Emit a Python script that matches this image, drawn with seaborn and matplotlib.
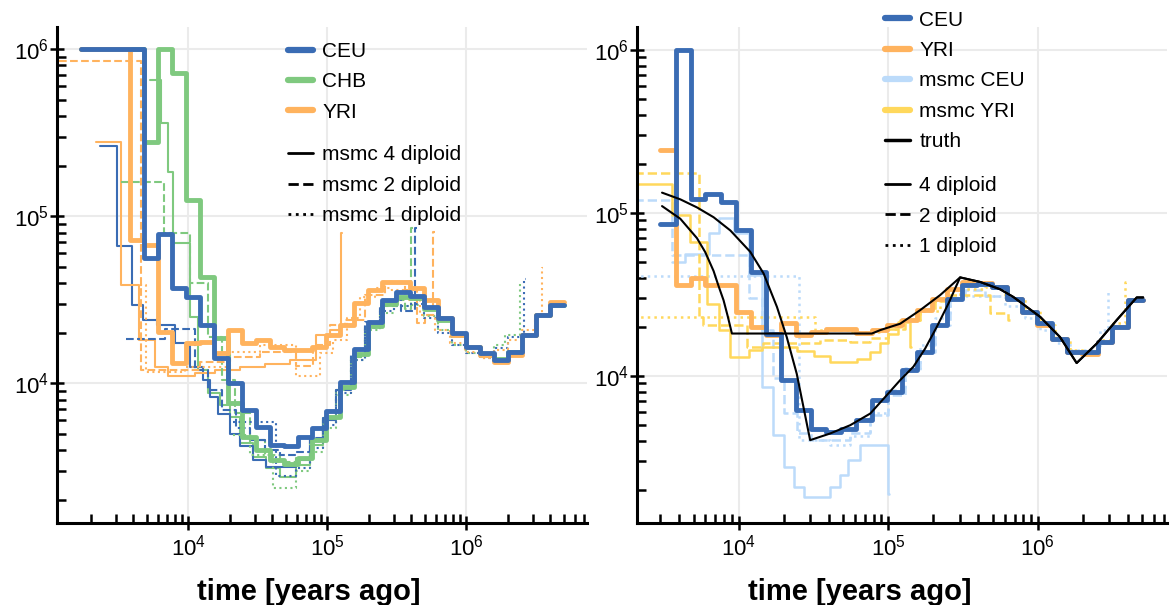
import numpy as np
import matplotlib
matplotlib.use("Agg")
import matplotlib.pyplot as plt
from matplotlib.lines import Line2D
from matplotlib.ticker import LogLocator, NullFormatter
import seaborn as sns

# shared time bins of the thick step curves [years ago]
T_GRID = [3.8e3, 4.8e3, 6.0e3, 7.6e3, 9.6e3, 1.21e4, 1.53e4, 1.93e4, 2.43e4, 3.06e4,
          3.86e4, 4.87e4, 6.14e4, 7.74e4, 9.77e4, 1.23e5, 1.55e5, 1.96e5, 2.47e5, 3.11e5,
          3.93e5, 4.95e5, 6.24e5, 7.87e5, 9.93e5, 1.25e6, 1.58e6, 1.99e6, 2.51e6, 3.16e6,
          3.99e6, 5.03e6]
LEFT_START = 1.7e3
RIGHT_START = 3.0e3

# ---- left panel: thick curves
ceu_left = [1e6, 1e6, 5.6e4, 7.8e4, 3.7e4, 3.3e4, 2.23e4, 1.41e4, 1.0e4, 6900, 5500, 4300,
            4200, 4800, 5400, 6800, 1.02e4, 1.6e4, 2.34e4, 3.15e4, 3.54e4, 3.35e4, 2.88e4,
            2.45e4, 1.99e4, 1.66e4, 1.51e4, 1.39e4, 1.55e4, 1.95e4, 2.56e4, 2.94e4]
chb_left = [1e6, 1e6, 2.8e5, 1e6, 7.2e5, 1.25e5, 4.35e4, 1.86e4, 7600, 4800, 4000, 3500,
            3300, 3600, 4600, 6300, 9500, 1.5e4, 2.2e4, 3.0e4, 3.3e4, 3.25e4, 2.8e4, 2.4e4,
            1.95e4, 1.65e4, 1.5e4, 1.4e4, 1.55e4, 1.95e4, 2.55e4, 2.94e4]
yri_left = [1e6, 7.2e4, 6.7e4, 2.04e4, 1.32e4, 1.74e4, 1.78e4, 1.52e4, 2.08e4, 1.74e4, 1.82e4,
            1.66e4, 1.58e4, 1.58e4, 1.66e4, 1.95e4, 2.23e4, 3.03e4, 3.62e4, 4.06e4, 4.06e4,
            3.72e4, 3.16e4, 2.46e4, 1.95e4, 1.66e4, 1.48e4, 1.35e4, 1.48e4, 1.95e4, 2.56e4, 3.08e4]

# ---- left panel: msmc curves (time edges, sizes)
ceu_m4_t = [2300, 3050, 3910, 4690, 5920, 7970, 10200, 12700, 14200, 16300, 19800, 23400,
            29000, 36400, 59200, 74600, 92500, 116000]
ceu_m4_n = [2.65e5, 6.6e4, 2.94e4, 2.39e4, 2.23e4, 1.74e4, 1.26e4, 1.05e4, 8300, 6600, 5000,
            4200, 3480, 3170, 3480, 4580, 6030]
chb_m4_t = [5270, 6400, 7100, 7750, 10200, 11700, 13800, 16800, 19800, 23400, 29000, 36400,
            45400, 59800, 74600, 92500, 116000]
chb_m4_n = [6.5e5, 3.6e5, 1.85e5, 6.9e4, 2.5e4, 1.2e4, 8800, 7400, 6300, 4370, 3640, 3100,
            2760, 3250, 4270, 6030]
yri_m4_t = [2180, 3260, 4410, 5720, 7100, 11100, 15500, 23400, 35400, 53600, 83400, 104000,
            126000, 128000]
yri_m4_n = [2.8e5, 3.9e4, 1.82e4, 1.26e4, 1.10e4, 1.15e4, 1.20e4, 1.25e4, 1.31e4, 1.38e4,
            1.95e4, 2.08e4, 8.0e4]

ceu_m2_t = [3580, 6750, 11100, 13800, 17400, 21900, 27600, 35400, 45400, 59200, 74600, 92500,
            116000, 147000, 185000, 238000, 300000, 337000, 425000, 439000]
ceu_m2_n = [1.84e4, 2.13e4, 1.2e4, 9100, 6900, 5400, 4570, 4000, 3720, 3880, 4700, 6200, 9100,
            1.48e4, 2.33e4, 2.94e4, 3.24e4, 2.71e4, 8.5e4]
chb_m2_t = [3300, 6640, 10200, 13800, 17400, 21500, 27600, 35400, 45400, 59200, 74600, 92500,
            116000, 147000, 185000, 238000, 300000, 360000, 402000, 414000]
chb_m2_n = [1.61e5, 7.9e4, 3.97e4, 1.9e4, 1.05e4, 6640, 4570, 3720, 3380, 3560, 4570, 6200,
            9100, 1.44e4, 2.2e4, 2.9e4, 3.16e4, 2.8e4, 8.5e4]
yri_m2_t = [1170, 4590, 12100, 19800, 32600, 59800, 78400, 104000, 133000, 185000, 258000,
            360000, 439000, 501000, 575000, 591000]
yri_m2_n = [8.5e5, 1.2e4, 1.34e4, 1.44e4, 1.54e4, 1.27e4, 1.7e4, 2.23e4, 2.39e4, 3.38e4, 4.0e4,
            3.6e4, 2.3e4, 2.57e4, 8.1e4]

ceu_m1_t = [20800, 43000, 59200, 74600, 92500, 116000, 147000, 185000, 238000, 300000, 391000,
            493000, 622000, 784000, 988000, 1.25e6, 1.57e6, 1.98e6, 2.58e6, 2.66e6]
ceu_m1_n = [5900, 2800, 3100, 4100, 5600, 8800, 1.38e4, 2.14e4, 2.7e4, 2.9e4, 3.0e4, 2.46e4,
            2.0e4, 1.7e4, 1.52e4, 1.42e4, 1.63e4, 1.9e4, 4.2e4]
chb_m1_t = [20800, 27600, 40400, 59800, 74600, 92500, 116000, 147000, 185000, 238000, 300000,
            391000, 493000, 622000, 784000, 988000, 1.25e6, 1.57e6, 1.89e6, 2.42e6, 2.50e6]
chb_m1_n = [4900, 3720, 2360, 2980, 3880, 5400, 8500, 1.38e4, 2.08e4, 2.64e4, 2.9e4, 2.94e4,
            2.53e4, 2.08e4, 1.7e4, 1.52e4, 1.44e4, 1.7e4, 1.95e4, 4.0e4]
yri_m1_t = [4460, 4930, 9400, 19800, 32600, 59800, 88100, 109000, 138000, 171000, 219000,
            281000, 360000, 461000, 591000, 759000, 972000, 1.25e6, 1.57e6, 1.98e6, 2.50e6,
            3.10e6, 3.47e6, 3.55e6]
yri_m1_n = [3.9e4, 1.17e4, 1.25e4, 1.54e4, 1.7e4, 1.1e4, 1.52e4, 1.82e4, 2.46e4, 3.29e4,
            3.72e4, 3.6e4, 3.16e4, 2.57e4, 2.08e4, 1.74e4, 1.54e4, 1.42e4, 1.58e4, 1.82e4,
            2.08e4, 2.46e4, 4.9e4]

# ---- right panel: thick curves
ceu_right = [8.6e4, 1e6, 1.22e5, 1.31e5, 1.16e5, 7.8e4, 4.35e4, 1.82e4, 9400, 6160, 4750, 4530,
             4750, 5350, 7100, 8000, 1.08e4, 1.40e4, 2.05e4, 2.98e4, 3.6e4, 3.65e4, 3.5e4,
             2.98e4, 2.47e4, 2.1e4, 1.69e4, 1.40e4, 1.40e4, 1.62e4, 2.0e4, 2.91e4]
yri_right = [2.43e5, 3.6e4, 3.96e4, 3.6e4, 3.6e4, 2.47e4, 2.0e4, 1.78e4, 2.1e4, 1.78e4, 1.86e4,
             1.95e4, 1.93e4, 1.84e4, 1.9e4, 2.05e4, 2.2e4, 2.53e4, 2.98e4, 3.43e4, 3.77e4,
             3.69e4, 3.52e4, 2.98e4, 2.47e4, 2.05e4, 1.69e4, 1.40e4, 1.37e4, 1.62e4, 2.0e4, 2.91e4]

# ---- right panel: msmc curves
mceu_4_t = [3590, 4400, 6310, 7350, 9270, 11700, 14300, 17100, 20000, 23300, 27200, 41000,
            47800, 54300, 65000, 100500, 102000]
mceu_4_n = [5.0e4, 5.6e4, 7.5e4, 9.3e4, 7.5e4, 4.15e4, 8500, 4330, 2770, 2080, 1810, 2080,
            2460, 3040, 3760, 1900]
mceu_2_t = [2000, 3590, 11700, 14300, 17100, 20000, 24500, 30600, 41000, 55700, 75800, 100500,
            130000, 164000, 206000, 259000, 327000, 445000, 560000]
mceu_2_n = [1.2e5, 5.5e4, 3.0e4, 1.9e4, 9700, 5900, 4440, 4050, 4050, 4500, 5750, 7600, 1.08e4,
            1.4e4, 2.05e4, 3.0e4, 3.35e4, 3.1e4]
mceu_1_t = [2000, 25200, 41000, 55700, 75800, 100500, 130000, 164000, 206000, 259000, 327000,
            445000, 605000, 822000, 1.04e6, 1.31e6, 1.64e6, 2.07e6, 2.61e6, 2.95e6, 3.0e6]
mceu_1_n = [4.1e4, 4040, 3760, 4300, 5950, 8170, 1.12e4, 1.54e4, 2.26e4, 3.0e4, 3.1e4, 3.1e4,
            2.7e4, 2.26e4, 1.9e4, 1.6e4, 1.44e4, 1.44e4, 1.9e4, 3.36e4]
myri_4_t = [2000, 3590, 4760, 6150, 7350, 8810, 11700, 14300, 24500, 31700, 41000, 61800,
            75800, 88500, 100500, 117000, 140000, 142000]
myri_4_n = [1.5e5, 9.7e4, 6.6e4, 2.78e4, 1.9e4, 1.31e4, 1.44e4, 1.51e4, 1.42e4, 1.33e4, 1.22e4,
            1.27e4, 1.4e4, 1.6e4, 1.82e4, 2.14e4, 1.5e4]
myri_2_t = [2000, 5400, 5810, 11400, 14600, 35100, 55700, 75800, 100500, 130000, 164000,
            206000, 259000, 480000, 634000, 654000]
myri_2_n = [1.76e5, 2.3e4, 2.05e4, 1.51e4, 1.6e4, 1.65e4, 1.62e4, 1.72e4, 1.95e4, 2.2e4,
            2.55e4, 2.9e4, 3.14e4, 2.42e4, 2.2e4]
myri_1_t = [2000, 32500, 55700, 88500, 120000, 164000, 223000, 303000, 445000, 605000, 822000,
            1.04e6, 1.31e6, 1.64e6, 2.07e6, 2.53e6, 3.19e6, 3.83e6, 3.9e6]
myri_1_n = [2.3e4, 1.9e4, 1.85e4, 1.95e4, 2.2e4, 2.5e4, 3.0e4, 3.4e4, 3.5e4, 3.0e4, 2.5e4,
            2.05e4, 1.7e4, 1.45e4, 1.42e4, 1.65e4, 2.1e4, 3.77e4]

# ---- right panel: true histories
truth_ceu_t = [3080, 4080, 5270, 6810, 8810, 11970, 14700, 18060, 21000, 24500, 30100, 41000,
               55800, 75900, 97900, 120000, 147600, 176600, 211500, 253000, 302700, 412000,
               560000, 687000, 1.04e6, 1.41e6, 1.82e6, 2.48e6, 3.37e6, 4.59e6, 5.07e6]
truth_ceu_n = [1.33e5, 1.21e5, 1.08e5, 9.4e4, 7.8e4, 5.77e4, 4.25e4, 2.65e4, 1.73e4, 1.03e4,
               4040, 4440, 4990, 5880, 7620, 9400, 1.14e4, 1.47e4, 2.0e4, 2.78e4, 4.02e4,
               3.77e4, 3.4e4, 3.05e4, 2.3e4, 1.73e4, 1.2e4, 1.58e4, 2.2e4, 3.03e4, 3.03e4]
truth_yri_t = [3080, 4080, 5270, 5990, 6810, 7320, 7940, 8470, 9030, 77800, 88500, 120300,
               163500, 222500, 302700, 412000, 560000, 687000, 1.04e6, 1.41e6, 1.82e6,
               2.48e6, 3.37e6, 4.59e6, 5.07e6]
truth_yri_n = [1.10e5, 9.2e4, 7.0e4, 5.74e4, 4.4e4, 3.6e4, 2.91e4, 2.32e4, 1.82e4, 1.82e4,
               1.91e4, 2.09e4, 2.53e4, 3.13e4, 4.02e4, 3.77e4, 3.4e4, 3.05e4, 2.3e4, 1.73e4,
               1.2e4, 1.58e4, 2.2e4, 3.03e4, 3.03e4]

BLUE = "#3a6cb4"
GREEN = "#7fc97f"
ORANGE = "#ffb35e"
LIGHTBLUE = "#bcdbfa"
YELLOW = "#ffd85c"

THICK = 3.5
THIN = 1.5


def steps(ax, times, sizes, **kw):
    # step curve: sizes[i] holds between times[i] and times[i+1]
    y = list(sizes) + [sizes[-1]]
    sns.lineplot(x=list(times), y=y, ax=ax, drawstyle="steps-post", estimator=None,
                 sort=False, legend=False, **kw)


def style_axes(ax, xlim, ylim):
    ax.set_xscale("log")
    ax.set_yscale("log")
    ax.set_xlim(*xlim)
    ax.set_ylim(*ylim)
    for side in ["top", "right"]:
        ax.spines[side].set_visible(False)
    for side in ["left", "bottom"]:
        ax.spines[side].set_linewidth(2.2)
        ax.spines[side].set_color("black")
    for axis in [ax.xaxis, ax.yaxis]:
        axis.set_major_locator(LogLocator(base=10, numticks=10))
        axis.set_minor_locator(LogLocator(base=10, subs=np.arange(2, 10), numticks=20))
        axis.set_minor_formatter(NullFormatter())
    ax.tick_params(which="both", bottom=True, left=True, top=False, right=False)
    ax.tick_params(which="major", direction="inout", length=10, width=1.8, labelsize=16,
                   color="black", labelcolor="black", pad=3)
    ax.tick_params(axis="y", which="major", pad=1)
    ax.tick_params(which="minor", direction="in", length=6.5, width=1.8, color="black")
    ax.grid(True, which="major", color="#ebebeb", lw=1.5)
    ax.grid(False, which="minor")
    ax.set_axisbelow(True)


sns.set_style("ticks")
plt.rcParams["font.family"] = ["Liberation Sans", "DejaVu Sans"]
plt.rcParams["mathtext.fontset"] = "custom"
plt.rcParams["mathtext.rm"] = "Liberation Sans"
plt.rcParams["mathtext.it"] = "Liberation Sans"
plt.rcParams["mathtext.default"] = "regular"
plt.rcParams["text.color"] = "black"
plt.rcParams["axes.labelcolor"] = "black"

fig = plt.figure(figsize=(11.75, 6.05), dpi=100)
ax1 = fig.add_axes([0.0485, 0.1355, 0.451, 0.82])
ax2 = fig.add_axes([0.5421, 0.1355, 0.451, 0.82])

style_axes(ax1, (1135, 7.35e6), (1460, 1.36e6))
style_axes(ax2, (2094, 7.3e6), (1254, 1.38e6))

# left panel
left_t = [LEFT_START] + T_GRID
for t, n, c in [(chb_m4_t, chb_m4_n, GREEN), (ceu_m4_t, ceu_m4_n, BLUE), (yri_m4_t, yri_m4_n, ORANGE)]:
    steps(ax1, t, n, color=c, lw=THIN, linestyle="-")
for t, n, c in [(chb_m2_t, chb_m2_n, GREEN), (ceu_m2_t, ceu_m2_n, BLUE), (yri_m2_t, yri_m2_n, ORANGE)]:
    steps(ax1, t, n, color=c, lw=THIN, linestyle="--")
for t, n, c in [(chb_m1_t, chb_m1_n, GREEN), (ceu_m1_t, ceu_m1_n, BLUE), (yri_m1_t, yri_m1_n, ORANGE)]:
    steps(ax1, t, n, color=c, lw=THIN, linestyle=":")
steps(ax1, left_t, chb_left, color=GREEN, lw=THICK)
steps(ax1, left_t, yri_left, color=ORANGE, lw=THICK)
steps(ax1, left_t, ceu_left, color=BLUE, lw=THICK)

# right panel
right_t = [RIGHT_START] + T_GRID
steps(ax2, mceu_4_t, mceu_4_n, color=LIGHTBLUE, lw=THIN + 0.3, linestyle="-")
steps(ax2, mceu_2_t, mceu_2_n, color=LIGHTBLUE, lw=THIN + 0.3, linestyle="--")
steps(ax2, mceu_1_t, mceu_1_n, color=LIGHTBLUE, lw=THIN + 0.3, linestyle=":")
steps(ax2, myri_4_t, myri_4_n, color=YELLOW, lw=THIN + 0.3, linestyle="-")
steps(ax2, myri_2_t, myri_2_n, color=YELLOW, lw=THIN + 0.3, linestyle="--")
steps(ax2, myri_1_t, myri_1_n, color=YELLOW, lw=THIN + 0.3, linestyle=":")
steps(ax2, right_t, yri_right, color=ORANGE, lw=THICK)
steps(ax2, right_t, ceu_right, color=BLUE, lw=THICK)
sns.lineplot(x=truth_ceu_t, y=truth_ceu_n, ax=ax2, color="black", lw=1.5, estimator=None,
             sort=False, legend=False)
sns.lineplot(x=truth_yri_t, y=truth_yri_n, ax=ax2, color="black", lw=1.5, estimator=None,
             sort=False, legend=False)

for ax in [ax1, ax2]:
    ax.set_ylabel("")
    ax.set_xlabel("time [years ago]", fontsize=21, fontweight="bold")
ax1.xaxis.set_label_coords(0.4745, -0.11)
ax2.xaxis.set_label_coords(0.42, -0.11)

legend_kw = dict(loc="upper left", frameon=False, fontsize=15, handlelength=1.2,
                 handletextpad=0.45, labelspacing=0.55, borderpad=0, borderaxespad=0)

pop_labels_left = ["CEU", "CHB", "YRI"]
pop_colors_left = [BLUE, GREEN, ORANGE]
leg = ax1.legend([Line2D([], [], color=c, lw=4.5) for c in pop_colors_left], pop_labels_left,
                 bbox_to_anchor=(0.436, 0.970), **legend_kw)
ax1.add_artist(leg)
style_labels_left = ["msmc 4 diploid", "msmc 2 diploid", "msmc 1 diploid"]
ax1.legend([Line2D([], [], color="black", lw=2, ls=s) for s in ["-", "--", ":"]],
           style_labels_left, bbox_to_anchor=(0.436, 0.761), **legend_kw)

pop_labels_right = ["CEU", "YRI", "msmc CEU", "msmc YRI", "truth"]
pop_colors_right = [BLUE, ORANGE, LIGHTBLUE, YELLOW, "black"]
pop_lw_right = [4.5, 4.5, 4.5, 4.5, 2.5]
leg = ax2.legend([Line2D([], [], color=c, lw=w) for c, w in zip(pop_colors_right, pop_lw_right)],
                 pop_labels_right, bbox_to_anchor=(0.468, 1.033), **legend_kw)
ax2.add_artist(leg)
style_labels_right = ["4 diploid", "2 diploid", "1 diploid"]
ax2.legend([Line2D([], [], color="black", lw=2, ls=s) for s in ["-", "--", ":"]],
           style_labels_right, bbox_to_anchor=(0.468, 0.699), **legend_kw)

fig.savefig("out.png", dpi=100)
